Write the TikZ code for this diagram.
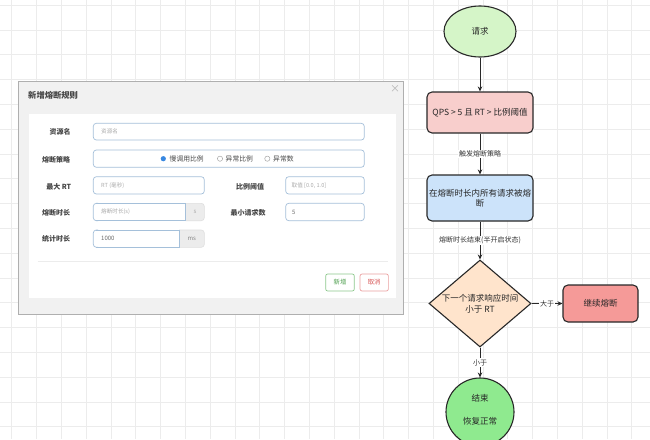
\documentclass[tikz,border=0pt]{standalone}
\usepackage{fontspec}
\setmainfont{Noto Sans CJK SC}
\usetikzlibrary{arrows.meta,shapes.geometric}
\definecolor{gridc}{RGB}{236,236,236}
\definecolor{dlgbg}{RGB}{241,241,241}
\definecolor{dlgline}{RGB}{175,175,175}
\definecolor{inputc}{RGB}{165,192,218}
\definecolor{lblc}{RGB}{70,70,70}
\definecolor{phc}{RGB}{170,170,170}
\definecolor{radioc}{RGB}{55,135,225}
\definecolor{addonc}{RGB}{236,236,236}
\definecolor{okc}{RGB}{80,160,80}
\definecolor{okb}{RGB}{140,200,140}
\definecolor{noc}{RGB}{215,85,85}
\definecolor{nob}{RGB}{235,160,160}
\definecolor{fgreen}{HTML}{D5F5C8}
\definecolor{fpink}{HTML}{F8CECC}
\definecolor{fblue}{HTML}{CCE3FA}
\definecolor{fpeach}{HTML}{FFE4CC}
\definecolor{fred}{HTML}{F59A98}
\definecolor{fgreen2}{HTML}{8FEA8F}
\definecolor{edgec}{RGB}{40,40,40}
\tikzset{
  gridline/.style={draw=gridc, line width=0.5pt},
  inputbox/.style={draw=inputc, fill=white, rounded corners=3pt, line width=0.7pt},
  addonbox/.style={draw=gray!25, fill=addonc, line width=0.6pt},
  dlglabel/.style={text=lblc, font=\fontsize{7}{8}\selectfont\bfseries, inner sep=0pt},
  phtext/.style={text=phc, font=\fontsize{5.6}{7}\selectfont, inner sep=0pt, anchor=west},
  valtext/.style={text=lblc!80, font=\fontsize{6}{7}\selectfont, inner sep=0pt, anchor=west},
  radiotext/.style={text=lblc, font=\fontsize{6.8}{8}\selectfont, inner sep=0pt, anchor=west},
  flowbase/.style={draw=edgec, line width=1.1pt, inner sep=0pt, align=center,
     font=\fontsize{8.5}{10}\selectfont, text=black!85},
  procbox/.style={flowbase, rectangle, rounded corners=5pt},
  arr/.style={draw=edgec, line width=0.8pt, -{Stealth[length=5pt,width=4.5pt]}},
  lbl/.style={fill=white, inner sep=1pt, font=\fontsize{7}{8}\selectfont, text=black!80},
}
\begin{document}
\begin{tikzpicture}[x=1pt,y=-1pt]
\useasboundingbox (0,0) rectangle (650,439);
\fill[white] (0,0) rectangle (650,439);
% background grid
\foreach \i in {0,...,26} \draw[gridline] ({11.7+24.8*\i},0) -- ({11.7+24.8*\i},439);
\foreach \j in {0,...,17} \draw[gridline] (0,{5+24.8*\j}) -- (650,{5+24.8*\j});

% ---------------- dialog ----------------
\draw[draw=dlgline, fill=dlgbg, line width=0.8pt] (18.3,81) rectangle (403,314);
\node[text=lblc, font=\fontsize{8.3}{9}\selectfont\bfseries, anchor=west, inner sep=0pt] (title) at (28,95.7) {新增熔断规则};
\node[text=gray!60, font=\fontsize{10}{10}\selectfont, inner sep=0pt] (close) at (395,89.5) {×};
\fill[white] (29,114.3) rectangle (396,298.3);

% labels
\node[dlglabel] (l1) at (60,132.3) {资源名};
\node[dlglabel] (l2) at (56,159.5) {熔断策略};
\node[dlglabel] (l3) at (58.7,186.5) {最大 RT};
\node[dlglabel] (l4) at (56,212.5) {熔断时长};
\node[dlglabel] (l5) at (56,239) {统计时长};
\node[dlglabel] (l6) at (250,187) {比例阈值};
\node[dlglabel] (l7) at (248,213) {最小请求数};

% inputs
\draw[inputbox] (93.3,123.3) rectangle (364.3,140);
\node[phtext] (p1) at (101,131.7) {资源名};

\draw[inputbox] (93.3,150) rectangle (364.3,167.3);
\fill[radioc] (163.3,158.7) circle (2.6);
\node[radiotext] (r1) at (169.5,158.9) {慢调用比例};
\draw[gray!70, line width=0.5pt] (220,158.7) circle (2.6);
\node[radiotext] (r2) at (225.5,158.9) {异常比例};
\draw[gray!70, line width=0.5pt] (267.3,158.7) circle (2.6);
\node[radiotext] (r3) at (273,158.9) {异常数};

\draw[inputbox] (93.3,176.7) rectangle (204.3,194);
\node[phtext] (p2) at (101,185.4) {RT (毫秒)};
\draw[inputbox] (285.7,176.7) rectangle (364.3,194);
\node[phtext] (p3) at (291.5,185.4) {取值 [0.0, 1.0]};

\begin{scope}
  \clip (185.7,200) rectangle (210,225);
  \draw[addonbox, rounded corners=3pt] (175,203.3) rectangle (204.3,220.7);
\end{scope}
\draw[inputbox, sharp corners, fill=none] (96.3,203.3) -- (185.7,203.3) -- (185.7,220.7) -- (96.3,220.7);
\draw[inputbox, fill=none] (98,203.3) -- (93.3,203.3) -- (93.3,220.7) -- (98,220.7);
\node[phtext] (p4) at (101,212) {熔断时长(s)};
\node[text=phc, font=\fontsize{6}{7}\selectfont, inner sep=0pt] (s) at (195,212) {s};
\draw[inputbox] (285.7,203.3) rectangle (364.3,220.7);
\node[valtext] (v5) at (292,212) {5};

\begin{scope}
  \clip (179,226) rectangle (210,250);
  \draw[addonbox, rounded corners=3pt] (170,230) rectangle (204.3,247.3);
\end{scope}
\draw[inputbox, sharp corners, fill=none] (96.3,230) -- (179,230) -- (179,247.3) -- (96.3,247.3);
\draw[inputbox, fill=none] (98,230) -- (93.3,230) -- (93.3,247.3) -- (98,247.3);
\node[valtext] (v1000) at (101,238.7) {1000};
\node[text=phc!80!black, font=\fontsize{6}{7}\selectfont, inner sep=0pt] (ms) at (191.7,238.7) {ms};

\draw[gray!15, line width=0.6pt] (37.7,261.7) -- (387.7,261.7);

\node[draw=okb, fill=white, rounded corners=2pt, line width=0.7pt, minimum width=28.6pt, minimum height=17pt, inner sep=0pt,
      text=okc, font=\fontsize{6.4}{7}\selectfont] (btnok) at (340,282.5) {新增};
\node[draw=nob, fill=white, rounded corners=2pt, line width=0.7pt, minimum width=28.3pt, minimum height=17pt, inner sep=0pt,
      text=noc, font=\fontsize{6.4}{7}\selectfont] (btnno) at (374.2,282.5) {取消};

% ---------------- flowchart ----------------
\node[flowbase, ellipse, fill=fgreen, minimum width=72pt, minimum height=51pt] (req) at (480,31.5) {请求};
\node[procbox, fill=fpink, minimum width=106pt, minimum height=41pt] (qps) at (480,112.5) {QPS > 5 且 RT > 比例阈值};
\node[procbox, fill=fblue, minimum width=106pt, minimum height=46pt] (cut) at (480,198) {在熔断时长内所有请求被熔\\断};
\node[flowbase, diamond, fill=fpeach, minimum width=102pt, minimum height=87pt] (dec) at (480,303.5) {};
\node[font=\fontsize{8.5}{11}\selectfont, text=black!85, align=center, inner sep=0pt] (dectext) at (dec.center) {下一个请求响应时间\\小于 RT};
\node[procbox, fill=fred, minimum width=75pt, minimum height=37pt] (keep) at (600.5,303.5) {继续熔断};
\node[flowbase, circle, fill=fgreen2, minimum size=68pt] (end) at (480,412) {};
\node[font=\fontsize{8.5}{11.3}\selectfont, text=black!85, align=center, inner sep=0pt] (endtext) at (480,409.5) {结束\\[11.3pt]恢复正常};

\draw[arr] (req) -- (qps);
\draw[arr] (qps) -- node[lbl] {触发熔断策略} (cut);
\draw[arr] (cut) -- node[lbl] {熔断时长结束(半开启状态)} (dec);
\draw[arr] (dec) -- node[lbl] {大于} (keep);
\draw[arr] (dec) -- node[lbl] {小于} (end);
\end{tikzpicture}
\end{document}
